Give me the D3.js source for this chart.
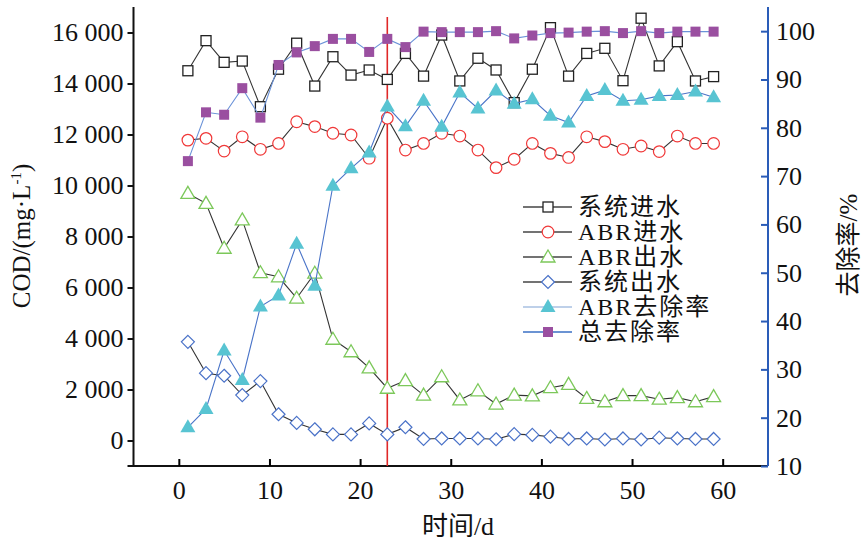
<!DOCTYPE html>
<html><head><meta charset="utf-8">
<script src="https://cdn.jsdelivr.net/npm/d3@7"></script>
<style>
body{margin:0;background:#fff;}
text{font-family:"Liberation Serif","Noto Sans CJK SC",serif;fill:#111;}
</style></head>
<body><svg id="c" width="865" height="545"></svg>
<script>
const days = [1,3,5,7,9,11,13,15,17,19,21,23,25,27,29,31,33,35,37,39,41,43,45,47,49,51,53,55,57,59];
const sysIn = [14500,15680,14830,14880,13090,14560,15580,13900,15050,14330,14530,14160,15180,14290,15900,14100,14990,14530,13250,14560,16190,14290,15180,15380,14110,16560,14690,15640,14100,14270];
const abrIn = [11780,11850,11350,11910,11420,11650,12500,12310,12050,11980,11070,12640,11390,11650,12050,11940,11390,10700,11030,11650,11260,11100,11910,11720,11420,11550,11330,11940,11650,11650];
const abrOut = [9690,9300,7540,8650,6580,6420,5580,6560,3970,3480,2850,2050,2350,1780,2500,1590,1950,1430,1780,1750,2070,2200,1650,1520,1760,1760,1620,1680,1520,1720];
const sysOut = [3870,2640,2540,1780,2330,1030,690,440,240,240,670,240,520,60,80,80,80,50,250,220,150,60,80,40,80,40,110,80,60,60];
const abrRate = [18.0,21.8,33.9,27.8,43.0,45.3,56.0,47.3,68.0,71.6,74.9,84.4,80.3,85.6,80.2,87.3,84.0,87.7,85.0,85.9,82.5,81.1,86.6,87.8,85.6,85.8,86.6,86.8,87.5,86.3];
const totalRate = [73.1,83.2,82.7,88.2,82.1,93.0,95.6,96.9,98.4,98.4,95.7,98.4,96.7,99.9,99.8,99.8,99.8,100.0,98.5,99.1,99.6,99.7,99.9,100.0,99.6,100.0,99.6,99.9,99.9,99.9];
const xTicks = [0,10,20,30,40,50,60];
const leftTicks = [0,2000,4000,6000,8000,10000,12000,14000,16000];
const rightTicks = [10,20,30,40,50,60,70,80,90,100];
const markerDay = 23;
const legendNames = ["系统进水","ABR进水","ABR出水","系统出水","ABR去除率","总去除率"];

const svg = d3.select("#c");
const L=133.5, R=768, T=7, B=466;
const x = d3.scaleLinear().domain([-5,65]).range([L,R]);
const yL = d3.scaleLinear().domain([-1000,17000]).range([B,T]);
const yR = d3.scaleLinear().domain([10,105]).range([B,T]);

const fmt = v => d3.format(",")(v).replace(/,/g," ");
const SERIF = '"Liberation Serif","Times New Roman",serif';

const gL = svg.append("g").attr("transform",`translate(${L},0)`)
  .call(d3.axisLeft(yL).tickValues(leftTicks).tickFormat(fmt).tickSize(6).tickPadding(4));
const gB = svg.append("g").attr("transform",`translate(0,${B})`)
  .call(d3.axisBottom(x).tickValues(xTicks).tickSizeInner(-7).tickSizeOuter(0).tickPadding(15));
const gR = svg.append("g").attr("transform",`translate(${R},0)`)
  .call(d3.axisRight(yR).tickValues(rightTicks).tickSizeInner(-7).tickSizeOuter(0).tickPadding(8));
[gL,gB,gR].forEach(g=>{
  g.attr("font-family",SERIF).attr("font-size",26);
  g.selectAll("text").attr("font-family",SERIF).style("font-family",SERIF).style("font-size","26px").attr("fill","#111");
  g.select(".domain").attr("stroke-width",2);
  g.selectAll(".tick line").attr("stroke-width",2);
});
gL.select(".domain").attr("d",`M-6,${B}H0V${T}`);
gL.selectAll(".tick line").attr("stroke","#111");
gB.selectAll(".tick text").attr("dy","0.71em");
gR.select(".domain").attr("stroke","#2a5cb8").attr("d",`M0,${T}V${B}`);
gR.selectAll(".tick line").attr("stroke","#2a5cb8");
gL.select(".domain").attr("stroke","#111");
gB.select(".domain").attr("stroke","#111").attr("d",`M${L},0H${R}`);

svg.append("line").attr("x1",x(markerDay)).attr("x2",x(markerDay)).attr("y1",17).attr("y2",B)
  .attr("stroke","#e02828").attr("stroke-width",1.6);

function drawMarker(g, type, cx, cy){
  if(type==="sq") g.append("rect").attr("x",cx-5).attr("y",cy-5).attr("width",10).attr("height",10).attr("fill","#fff").attr("stroke","#222").attr("stroke-width",1.3);
  if(type==="ci") g.append("circle").attr("cx",cx).attr("cy",cy).attr("r",5.8).attr("fill","#fff").attr("stroke","#f03838").attr("stroke-width",1.2);
  if(type==="tr") g.append("path").attr("d",`M${cx},${cy-7}L${cx+7},${cy+5}L${cx-7},${cy+5}Z`).attr("fill","#fff").attr("stroke","#7cc85a").attr("stroke-width",1.3);
  if(type==="di") g.append("path").attr("d",`M${cx},${cy-6.5}L${cx+6.5},${cy}L${cx},${cy+6.5}L${cx-6.5},${cy}Z`).attr("fill","#fff").attr("stroke","#4a72c8").attr("stroke-width",1.2);
  if(type==="ft") g.append("path").attr("d",`M${cx},${cy-8}L${cx+7.5},${cy+5}L${cx-7.5},${cy+5}Z`).attr("fill","#58c4d2");
  if(type==="fs") g.append("rect").attr("x",cx-5).attr("y",cy-5).attr("width",10).attr("height",10).attr("fill","#9a4fa0");
}

const series = [
  {vals:sysIn, y:yL, type:"sq", line:"#333"},
  {vals:abrIn, y:yL, type:"ci", line:"#333"},
  {vals:abrOut, y:yL, type:"tr", line:"#333"},
  {vals:sysOut, y:yL, type:"di", line:"#333"},
  {vals:abrRate, y:yR, type:"ft", line:"#4a74c8"},
  {vals:totalRate, y:yR, type:"fs", line:"#6a92d8"}
];
const legLine = ["#444","#444","#444","#444","#a8c0e2","#3a6fc4"];

series.forEach(s=>{
  const g = svg.append("g");
  const pts = days.map((d,i)=>[x(d), s.y(s.vals[i])]);
  g.append("path").attr("d",d3.line()(pts)).attr("fill","none").attr("stroke",s.line).attr("stroke-width",1.1);
  pts.forEach(p=>drawMarker(g,s.type,p[0],p[1]));
});

const lg = svg.append("g");
legendNames.forEach((n,i)=>{
  const yy = 207 + i*25;
  lg.append("line").attr("x1",523).attr("x2",572).attr("y1",yy).attr("y2",yy).attr("stroke",legLine[i]).attr("stroke-width",1.4);
  drawMarker(lg, series[i].type, 548, yy);
  lg.append("text").attr("x",578).attr("y",yy+8).style("font-size","24px").style("letter-spacing","2px").text(n);
});

const lt = svg.append("text").attr("transform","translate(30,236) rotate(-90)").attr("text-anchor","middle").style("font-size","25px");
lt.append("tspan").text("COD/(mg·L");
lt.append("tspan").attr("dy",-9).style("font-size","15px").text("-1");
lt.append("tspan").attr("dy",9).text(")");
svg.append("text").attr("transform","translate(857,245) rotate(-90)").attr("text-anchor","middle").style("font-size","25px").text("去除率/%");
svg.append("text").attr("x",458).attr("y",535).attr("text-anchor","middle").style("font-size","26px").text("时间/d");
</script></body></html>
